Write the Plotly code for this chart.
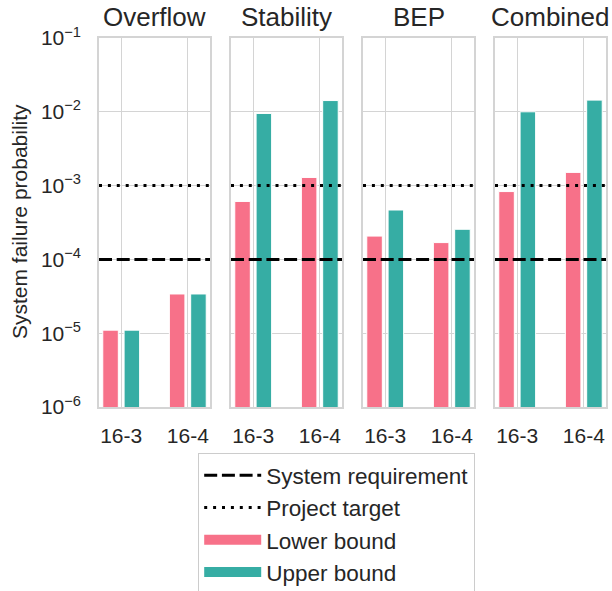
import plotly.graph_objects as go

# ---- data ----
panels = ["Overflow", "Stability", "BEP", "Combined"]
cases = ["16-3", "16-4"]
lower_bound = {
    "Overflow": [1.1e-5, 3.4e-5],
    "Stability": [6.1e-4, 1.29e-3],
    "BEP": [2.07e-4, 1.69e-4],
    "Combined": [8.3e-4, 1.51e-3],
}
upper_bound = {
    "Overflow": [1.1e-5, 3.4e-5],
    "Stability": [9.5e-3, 1.42e-2],
    "BEP": [4.67e-4, 2.56e-4],
    "Combined": [1.0e-2, 1.44e-2],
}
system_requirement = 1e-4
project_target = 1e-3
ytick_vals = [1e-6, 1e-5, 1e-4, 1e-3, 1e-2, 1e-1]
ytick_text = ["10<sup>−6</sup>", "10<sup>−5</sup>", "10<sup>−4</sup>",
              "10<sup>−3</sup>", "10<sup>−2</sup>", "10<sup>−1</sup>"]

# ---- style ----
W, H = 612, 591
PINK = "#f77189"
TEAL = "#36ada4"
GRID = "#d4d4d4"
TXT = "#262626"
FONT = "Liberation Sans, Arial, sans-serif"
DASH = "13px,4.7px"
DOT = "3px,5.9px"
x_lefts = [99, 231, 363, 495]
panel_w = 111
y_top, y_bot = 38, 407
xr = [-1 / 3, 4 / 3]
case_pos = list(range(len(cases)))

fig = go.Figure()

for i, p in enumerate(panels):
    xa = "x" if i == 0 else f"x{i+1}"
    ya = "y" if i == 0 else f"y{i+1}"
    fig.add_trace(go.Bar(
        x=case_pos, y=lower_bound[p], name="Lower bound", marker_color=PINK,
        marker_line=dict(color="white", width=1), xaxis=xa, yaxis=ya,
        showlegend=False, offsetgroup="lb"))
    fig.add_trace(go.Bar(
        x=case_pos, y=upper_bound[p], name="Upper bound", marker_color=TEAL,
        marker_line=dict(color="white", width=1), xaxis=xa, yaxis=ya,
        showlegend=False, offsetgroup="ub"))
    fig.add_trace(go.Scatter(
        x=xr, y=[system_requirement] * 2, mode="lines", name="System requirement",
        line=dict(color="black", width=3, dash=DASH), xaxis=xa, yaxis=ya,
        showlegend=(i == 0), legendrank=1, hoverinfo="skip"))
    fig.add_trace(go.Scatter(
        x=xr, y=[project_target] * 2, mode="lines", name="Project target",
        line=dict(color="black", width=3, dash=DOT), xaxis=xa, yaxis=ya,
        showlegend=(i == 0), legendrank=2, hoverinfo="skip"))

# legend swatches for the bar series (wide rectangles like the reference)
for name, col, rank in [("Lower bound", PINK, 3), ("Upper bound", TEAL, 4)]:
    fig.add_trace(go.Scatter(
        x=[None], y=[None], mode="lines", name=name,
        line=dict(color=col, width=14), legendrank=rank, hoverinfo="skip"))

layout = dict(
    width=W, height=H, margin=dict(l=0, r=0, t=0, b=0, autoexpand=False),
    paper_bgcolor="white", plot_bgcolor="white",
    font=dict(family=FONT, color=TXT, size=21),
    barmode="group", bargap=0.36, bargroupgap=0.27,
    showlegend=True,
    legend=dict(x=198 / W, y=1 - 453 / H, xanchor="left", yanchor="top",
                bordercolor="#cccccc", borderwidth=1.2, bgcolor="white",
                font=dict(size=22.5, color=TXT), tracegroupgap=3,
                itemwidth=57, traceorder="normal"),
)
annotations = []
for i, p in enumerate(panels):
    sfx = "" if i == 0 else str(i + 1)
    x0 = x_lefts[i] / W
    x1 = (x_lefts[i] + panel_w) / W
    layout["xaxis" + sfx] = dict(
        domain=[x0, x1], range=xr, tickvals=case_pos, ticktext=cases,
        showgrid=True, gridcolor=GRID, gridwidth=1.2, zeroline=False,
        showline=True, linecolor=GRID, linewidth=1.5, mirror=True,
        ticks="", ticklabelstandoff=9, tickfont=dict(size=21),
        anchor="y" + sfx, automargin=False)
    layout["yaxis" + sfx] = dict(
        type="log", range=[-6, -1], domain=[1 - y_bot / H, 1 - y_top / H],
        tickvals=ytick_vals, ticktext=ytick_text, showticklabels=(i == 0),
        showgrid=True, gridcolor=GRID, gridwidth=1.2, zeroline=False,
        showline=True, linecolor=GRID, linewidth=1.5, mirror=True,
        ticks="", ticklabelstandoff=12, tickfont=dict(size=21),
        anchor="x" + sfx, automargin=False)
    annotations.append(dict(
        text=p, x=(x0 + x1) / 2, y=1 - 17 / H, xref="paper", yref="paper",
        xanchor="center", yanchor="middle", showarrow=False,
        font=dict(size=26, color=TXT)))
annotations.append(dict(
    text="System failure probability", x=19 / W, y=1 - 222 / H,
    xref="paper", yref="paper", xanchor="center", yanchor="middle",
    textangle=-90, showarrow=False, font=dict(size=21, color=TXT)))
layout["annotations"] = annotations
fig.update_layout(**layout)

fig.write_html("out.html", config={"displayModeBar": False},
               post_script="document.body.style.margin='0';")
